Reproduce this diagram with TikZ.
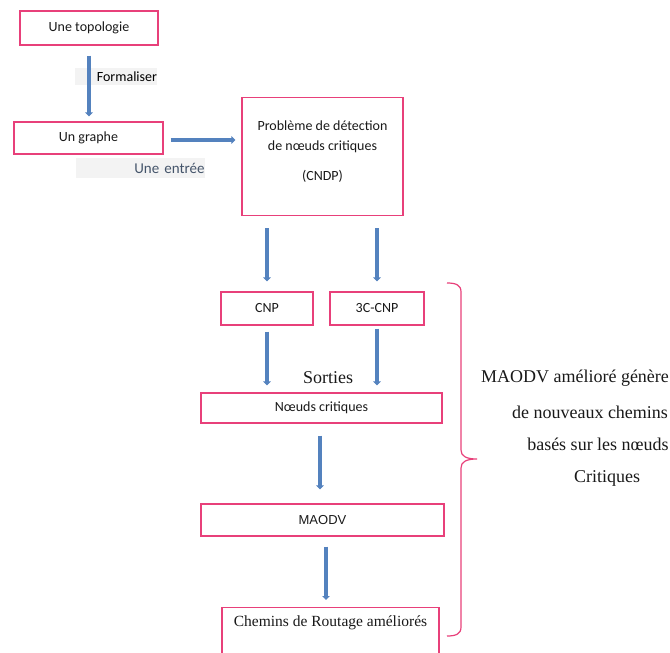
\documentclass[tikz,border=0pt]{standalone}
\usepackage{fontspec}
\setmainfont{Liberation Serif}
\newfontfamily\calib{Carlito}
\newfontfamily\arialf{Liberation Sans}
\usetikzlibrary{arrows.meta}
\definecolor{boxpink}{RGB}{232,64,122}
\definecolor{flowblue}{RGB}{84,130,190}
\definecolor{labelbg}{RGB}{243,243,243}
\definecolor{notegray}{RGB}{68,84,106}
\definecolor{inktext}{RGB}{25,25,25}

\begin{document}
\begin{tikzpicture}[x=1pt,y=-1pt,
  box/.style={draw=boxpink, line width=1.2pt, inner sep=0pt, text=inktext,
    font=\calib\fontsize{14}{17}\selectfont},
  flow/.style={draw=flowblue, line width=3.6pt, -{Triangle[length=4pt,width=7.5pt]}},
  tag/.style={fill=labelbg, inner sep=0pt, align=right,
    font=\calib\fontsize{14}{17}\selectfont},
  serifnote/.style={inner sep=0pt, text=inktext, font=\fontsize{18}{20}\selectfont},
  bracepath/.style={draw=boxpink, line width=1.2pt}]
\useasboundingbox (0,0) rectangle (670,653);
\clip (0,0) rectangle (670,653);

% label backgrounds (behind the arrows)
\node[tag, text width=82pt, minimum height=17pt] (formal) at (116,76.5) {Formaliser};
\node[tag, text width=129pt, minimum height=20pt, text=notegray,
      font=\calib\fontsize{15}{18}\selectfont] (entree) at (140,168) {Une entrée};

% boxes
\node[box, minimum width=138pt, minimum height=34pt] (topo) at (89,28) {Une topologie};
\node[box, minimum width=149pt, minimum height=32pt] (graphe) at (88.5,138) {Un graphe};
\node[box, minimum width=161pt, minimum height=118pt] (cndp) at (322.5,156.5) {};
\node[inner sep=0pt, align=center, text=inktext,
      font=\calib\fontsize{14}{20}\selectfont] (cndptext) at (322.5,152)
  {Problème de détection\\de nœuds critiques\\[10pt](CNDP)};
\node[box, minimum width=92pt, minimum height=33pt] (cnp) at (267,308.5) {CNP};
\node[box, minimum width=94pt, minimum height=33pt] (ccnp) at (377,308.5) {3C-CNP};
\node[box, minimum width=241pt, minimum height=30pt] (crit) at (321.5,408) {Nœuds critiques};
\node[box, minimum width=243pt, minimum height=32pt,
      font=\arialf\fontsize{13}{15}\selectfont] (maodv) at (322.5,520) {MAODV};
\node[box, anchor=north, minimum width=217pt, minimum height=60pt] (chemins) at (330.5,607) {};
\node[inner sep=0pt, text=inktext, font=\fontsize{15.5}{18}\selectfont] (chemtext) at (330.5,623)
  {Chemins de Routage améliorés};

% connectors
\draw[flow, shorten <=10pt, shorten >=5pt] (topo.south) -- (topo.south |- graphe.north);
\draw[flow, shorten <=7pt, shorten >=6pt] ([yshift=-2pt]graphe.east) -- ([yshift=-2pt]graphe.east -| cndp.west);
\draw[flow, shorten <=12pt, shorten >=10pt] (cndp.south -| cnp.north) -- (cnp.north);
\draw[flow, shorten <=12pt, shorten >=10pt] (cndp.south -| ccnp.north) -- (ccnp.north);
\draw[flow, shorten <=6pt, shorten >=7pt] (cnp.south) -- (cnp.south |- crit.north);
\draw[flow, shorten <=3pt, shorten >=7pt] (ccnp.south) -- (ccnp.south |- crit.north);
\draw[flow, shorten <=12pt, shorten >=14pt] ([xshift=-1.5pt]crit.south) -- ([xshift=-1.5pt]crit.south |- maodv.north);
\draw[flow, shorten <=10pt, shorten >=7pt] ([xshift=3.5pt]maodv.south) -- ([xshift=3.5pt]maodv.south |- chemins.north);

% output label
\node[serifnote] (sorties) at (328,378) {Sorties};

% brace grouping the processing stages
\coordinate (btop) at (447,283);
\coordinate (btip) at (477,459);
\coordinate (bbot) at (447,636);
\draw[bracepath] (btop) .. controls (456,283) and (461,285) .. (461,292) -- (461,450)
  .. controls (461,456) and (466,459) .. (btip)
  .. controls (466,459) and (461,462) .. (461,468) -- (461,627)
  .. controls (461,634) and (456,636) .. (bbot);

% brace note
\node[serifnote] (note1) at (575,378) {MAODV amélioré génère};
\node[serifnote] (note2) at (590,412) {de nouveaux chemins};
\node[serifnote] (note3) at (598,444) {basés sur les nœuds};
\node[serifnote] (note4) at (607,478) {Critiques};
\end{tikzpicture}
\end{document}
